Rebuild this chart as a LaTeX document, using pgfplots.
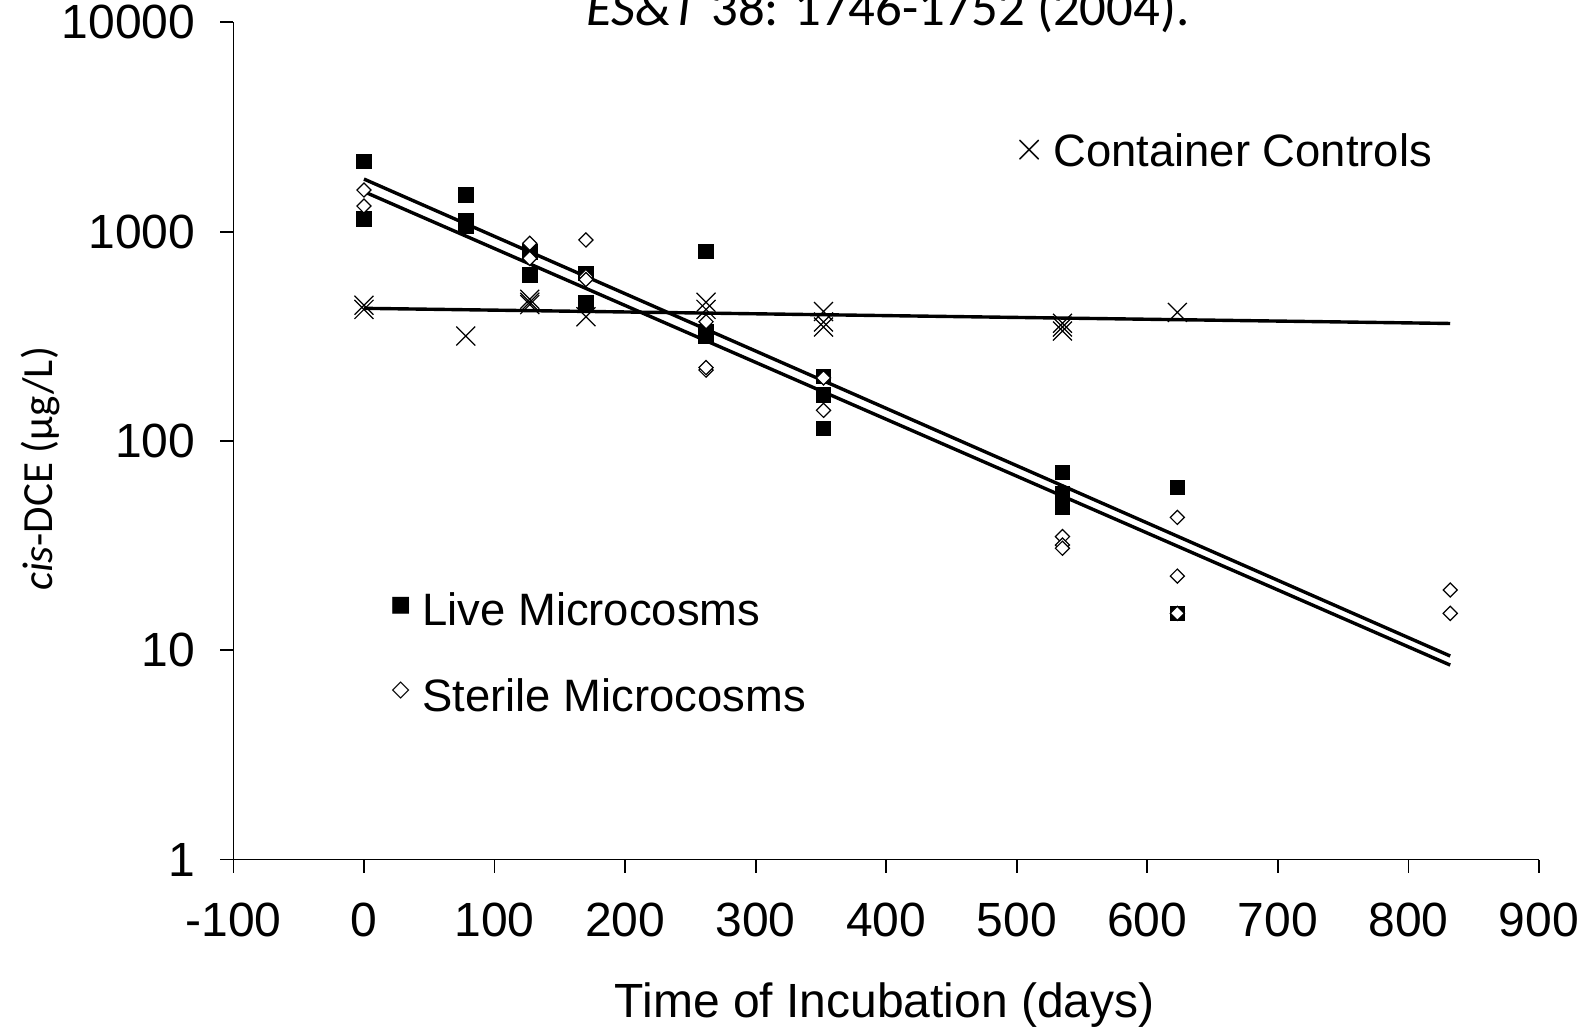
\documentclass[border=0pt]{standalone}
\usepackage{pgfplots}
\pgfplotsset{compat=1.18}
\usepackage{fontspec}
\setmainfont{Liberation Sans}
\newfontfamily\carlito{Carlito}
\newfontfamily\dejavu{DejaVu Sans}
\begin{document}
\begin{tikzpicture}[x=1pt,y=1pt]
\useasboundingbox (0,0) rectangle (795.5,514.5);
\begin{axis}[
  at={(116.7pt,84.75pt)}, anchor=south west,
  scale only axis, width=652.8pt, height=418.6pt,
  xmin=-100, xmax=900, ymode=log, ymin=1, ymax=10000,
  axis lines*=left, axis line style={line width=0.9pt},
  xtick={-100,0,100,200,300,400,500,600,700,800,900},
  xticklabels={-100,0,100,200,300,400,500,600,700,800,900},
  ytick={1,10,100,1000,10000},
  yticklabels={1,10,100,1000,10000},
  minor y tick num=0, yminorticks=false,
  tick align=outside, major tick length=6.5pt,
  tick style={line width=0.9pt, black},
  tick label style={font=\fontsize{24}{28}\selectfont},
  xticklabel style={yshift=-11.5pt},
  yticklabel style={xshift=-9pt},
  clip=false,
]
% Live microcosms
\addplot[only marks, mark=square*, mark size=3.6pt, mark options={fill=black, draw=black, line width=0.4pt}] coordinates {
(0,2160) (0,1150) (78,1496) (78,1060) (78,1130)
(127,800) (127,620) (170,631) (170,459)
(262,802) (262,332) (262,315)
(352,203) (352,166) (352,115)
(535,70.5) (535,55.7) (535,48)
(623,60) (623,15)
};
% Sterile microcosms
\addplot[only marks, mark=square*, mark size=2.5pt, mark options={rotate=45, fill=white, draw=black, line width=0.6pt}] coordinates {
(0,1580) (0,1325) (127,879) (127,745)
(170,912) (170,610) (170,590)
(262,371) (262,218) (262,224)
(352,200) (352,140)
(535,34.9) (535,31.8) (535,30.7)
(623,43.1) (623,22.6) (623,15)
(832,19.4) (832,15)
};
% Container controls
\addplot[only marks, mark=x, mark size=6.7pt, mark options={line width=0.6pt, draw=black}] coordinates {
(0,445) (0,425) (78,317)
(127,475) (127,460) (127,448)
(170,392)
(262,460) (262,425)
(352,415) (352,370) (352,350)
(535,365) (535,350) (535,335)
(623,411)
};
% regression lines
\addplot[no marks, line width=1.7pt, black] coordinates {(0,1783) (832,9.38)};
\addplot[no marks, line width=1.7pt, black] coordinates {(0,1552) (832,8.49)};
\addplot[no marks, line width=1.7pt, black] coordinates {(0,430) (832,364)};
\end{axis}
% title (cut off at top)
\node[anchor=base, font={\carlito\fontsize{26.4}{30}\selectfont}] at (444,501.8) {\textit{ES\&T} 38: 1746-1752 (2004).};
% axis labels
\node[anchor=base, font=\fontsize{24}{28}\selectfont] at (442.4,5.7) {Time of Incubation (days)};
\node[rotate=90, font={\carlito\fontsize{21.5}{25}\selectfont}] at (20.3,280.1) {\textit{cis}-DCE (µg/L)};
% legend texts
\node[inner sep=0pt, font={\fontsize{22}{24}\selectfont}] at (515,439.5) {$\times$};
\node[inner sep=0pt, anchor=base west, font=\fontsize{22.7}{27}\selectfont] at (526.5,431.3) {Container Controls};
\node[inner sep=0pt, font={\dejavu\fontsize{11}{13}\selectfont}] at (200.4,211.7) {■};
\node[inner sep=0pt, anchor=base west, font=\fontsize{22.7}{27}\selectfont] at (211,201.5) {Live Microcosms};
\node[inner sep=0pt, font={\dejavu\fontsize{11.5}{13}\selectfont}] at (200.4,169) {◇};
\node[inner sep=0pt, anchor=base west, font=\fontsize{22.7}{27}\selectfont] at (211,158.9) {Sterile Microcosms};
\end{tikzpicture}
\end{document}
